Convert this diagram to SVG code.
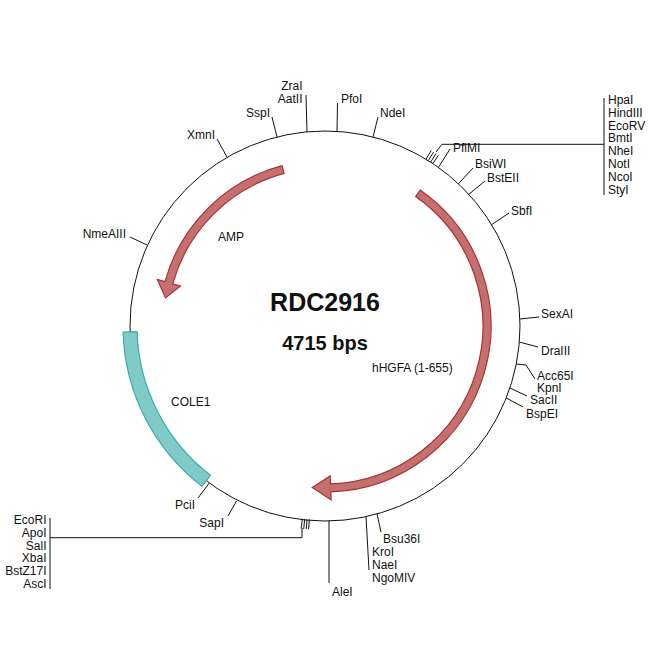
<svg xmlns="http://www.w3.org/2000/svg" width="650" height="650" viewBox="0 0 650 650">
<style>
text{font-family:"Liberation Sans",Arial,sans-serif;font-size:12px;fill:#111}
.l{fill:none;stroke:#111;stroke-width:1}
.e{text-anchor:end}
.t{font-weight:bold;text-anchor:middle}
.arr{fill:#c4706f;stroke:#a93234;stroke-width:1.2}
.ori{fill:#7fcbc8;stroke:#3aacaa;stroke-width:1.2}
</style>
<rect width="650" height="650" fill="#fff"/>
<g id="backbone"><circle class="l" cx="325" cy="326" r="195"/></g>
<g id="title">
<text class="t" x="325" y="311" style="font-size:25px">RDC2916</text>
<text class="t" x="325" y="350" style="font-size:20px">4715 bps</text>
</g>
<g id="hHGFA">
<path class="arr" d="M420.2,190 A166,166 0 0 1 330.8,491.9 L331.1,499.9 L312.3,487.5 L330.2,475.9 L330.5,483.9 A158,158 0 0 0 415.6,196.6 Z"/>
<text x="372" y="372">hHGFA (1-655)</text>
</g>
<g id="AMP">
<path class="arr" d="M282,165.7 A166,166 0 0 0 165,281.6 L157.3,279.5 L165.5,297.9 L180.5,285.9 L172.8,283.8 A158,158 0 0 1 284.1,173.4 Z"/>
<text x="218" y="241">AMP</text>
</g>
<g id="COLE1">
<path class="ori" d="M202,486.3 A202,202 0 0 1 123.1,332 L137.1,331.6 A188,188 0 0 0 210.5,475.2 Z"/>
<text x="171" y="406">COLE1</text>
</g>
<g id="connectors">
<polyline class="l" points="147,245 130,237"/>
<polyline class="l" points="227,157 217,139"/>
<polyline class="l" points="277,137 272,117"/>
<polyline class="l" points="307,132 306,95"/>
<polyline class="l" points="337,131.4 337.5,103"/>
<polyline class="l" points="373,137 378,117"/>
<line class="l" x1="426" y1="159.2" x2="431.2" y2="150.6"/>
<line class="l" x1="428.3" y1="160.6" x2="433.6" y2="152.2"/>
<line class="l" x1="430.6" y1="162.1" x2="436" y2="153.7"/>
<line class="l" x1="432.9" y1="163.6" x2="438.4" y2="155.3"/>
<polyline class="l" points="436,152 442,144.3 604,144.3"/>
<line class="l" x1="604" y1="98" x2="604" y2="195"/>
<polyline class="l" points="438.5,167.4 450,149"/>
<polyline class="l" points="458.4,183.8 473,168"/>
<polyline class="l" points="468.8,194.3 485,181"/>
<polyline class="l" points="491.6,224.7 509,213"/>
<polyline class="l" points="520,319 539,317"/>
<polyline class="l" points="519.3,342 538,347"/>
<polyline class="l" points="516.3,364 526,365 535,379"/>
<polyline class="l" points="509.9,388 527,396"/>
<polyline class="l" points="506.2,398 523,407"/>
<polyline class="l" points="381,532 377,513.9"/>
<polyline class="l" points="366,516.6 369,570"/>
<polyline class="l" points="329,521 329,583"/>
<line class="l" x1="309.4" y1="519.4" x2="308.6" y2="529.3"/>
<line class="l" x1="307.1" y1="519.2" x2="306.2" y2="529.1"/>
<line class="l" x1="304.7" y1="518.9" x2="303.7" y2="528.9"/>
<line class="l" x1="302.4" y1="518.7" x2="301.2" y2="528.6"/>
<polyline class="l" points="302,528 302,537.7 50,537.7"/>
<line class="l" x1="50" y1="518" x2="50" y2="589"/>
<polyline class="l" points="236.5,501 228,516"/>
<polyline class="l" points="209.3,483 198,498"/>
</g>
<g id="NmeAIII"><text class="e" x="126" y="238">NmeAIII</text></g>
<g id="XmnI"><text class="e" x="215" y="139">XmnI</text></g>
<g id="SspI"><text class="e" x="270" y="117">SspI</text></g>
<g id="ZraI-AatII"><text class="e" x="302.5" y="90">ZraI</text><text class="e" x="302.5" y="103">AatII</text></g>
<g id="PfoI"><text x="341" y="103">PfoI</text></g>
<g id="NdeI"><text x="380" y="117">NdeI</text></g>
<g id="PflMI"><text x="453" y="152">PflMI</text></g>
<g id="HpaI-group">
<text x="608" y="104">HpaI</text>
<text x="608" y="117">HindIII</text>
<text x="608" y="130">EcoRV</text>
<text x="608" y="142">BmtI</text>
<text x="608" y="155">NheI</text>
<text x="608" y="168">NotI</text>
<text x="608" y="181">NcoI</text>
<text x="608" y="194">StyI</text>
</g>
<g id="BsiWI"><text x="475" y="168">BsiWI</text></g>
<g id="BstEII"><text x="487" y="182">BstEII</text></g>
<g id="SbfI"><text x="511" y="215">SbfI</text></g>
<g id="SexAI"><text x="541" y="318">SexAI</text></g>
<g id="DraIII"><text x="541" y="355">DraIII</text></g>
<g id="Acc65I-KpnI"><text x="537" y="380">Acc65I</text><text x="537" y="392">KpnI</text></g>
<g id="SacII"><text x="530" y="404">SacII</text></g>
<g id="BspEI"><text x="526" y="418">BspEI</text></g>
<g id="Bsu36I"><text x="383" y="543">Bsu36I</text></g>
<g id="KroI-group"><text x="372" y="556">KroI</text><text x="372" y="569">NaeI</text><text x="372" y="582">NgoMIV</text></g>
<g id="AleI"><text x="332" y="596">AleI</text></g>
<g id="SapI"><text class="e" x="224" y="527">SapI</text></g>
<g id="PciI"><text class="e" x="195" y="509">PciI</text></g>
<g id="EcoRI-group">
<text class="e" x="46.5" y="524">EcoRI</text>
<text class="e" x="46.5" y="537">ApoI</text>
<text class="e" x="46.5" y="550">SalI</text>
<text class="e" x="46.5" y="562">XbaI</text>
<text class="e" x="46.5" y="575">BstZ17I</text>
<text class="e" x="46.5" y="588">AscI</text>
</g>
</svg>
